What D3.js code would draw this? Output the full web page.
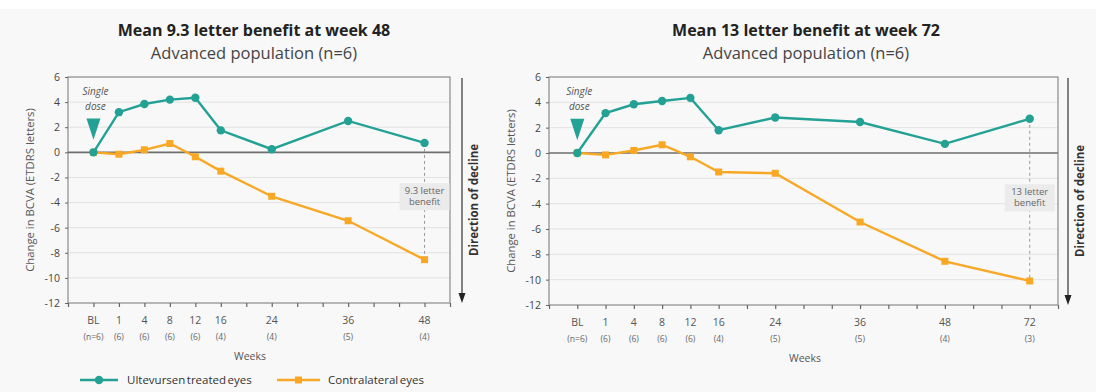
<!DOCTYPE html>
<html><head><meta charset="utf-8">
<script src="https://cdn.jsdelivr.net/npm/d3@7"></script>
<style>body{margin:0;background:#fff;font-family:"Open Sans",sans-serif}</style>
</head><body>
<svg id="c" width="1096" height="392"></svg>
<script>
// ---- data ----
const titles = ["Mean 9.3 letter benefit at week 48", "Mean 13 letter benefit at week 72"];
const subtitle = "Advanced population (n=6)";
// axis slots (blank slots are unlabeled ticks)
const slotsA = ["_0","BL","1","4","8","12","16","_7","24","_9","_10","36","_12","_13","48","_15"];
const slotsB = ["_0","BL","1","4","8","12","16","_7","24","_9","_10","36","_12","_13","48","_15","_16","72","_18"];
const weeksA = ["BL","1","4","8","12","16","24","36","48"];
const weeksB = ["BL","1","4","8","12","16","24","36","48","72"];
const nA = ["(n=6)","(6)","(6)","(6)","(6)","(4)","(4)","(5)","(4)"];
const nB = ["(n=6)","(6)","(6)","(6)","(6)","(4)","(5)","(5)","(4)","(3)"];
const treatedA = [0, 3.2, 3.85, 4.2, 4.35, 1.75, 0.25, 2.5, 0.75];
const contraA  = [0, -0.15, 0.2, 0.7, -0.35, -1.5, -3.5, -5.45, -8.55];
const treatedB = [0, 3.15, 3.85, 4.1, 4.35, 1.8, 2.8, 2.45, 0.72, 2.7];
const contraB  = [0, -0.15, 0.2, 0.65, -0.3, -1.5, -1.6, -5.45, -8.55, -10.1];
const benefitLabels = [["9.3 letter","benefit"],["13 letter","benefit"]];
const yTicks = [6,4,2,0,-2,-4,-6,-8,-10,-12];
const seriesNames = ["Ultevursen treated eyes", "Contralateral eyes"];

const TEAL = "#22a194", ORANGE = "#f8a824";
const svg = d3.select("#c");
svg.append("rect").attr("x",0).attr("y",9).attr("width",1096).attr("height",383).attr("fill","#f8f8f8");

const panels = [
  {slots:slotsA, weeks:weeksA, n:nA, t:treatedA, c:contraA, x0:68, x1:450, y0:303, y1:77, title:titles[0], ben:benefitLabels[0], arrowX:462, cx:254, wx:250},
  {slots:slotsB, weeks:weeksB, n:nB, t:treatedB, c:contraB, x0:549, x1:1058, y0:305, y1:77, title:titles[1], ben:benefitLabels[1], arrowX:1068, cx:806, wx:805}
];

panels.forEach(p => {
  const g = svg.append("g");
  const x = d3.scalePoint().domain(p.slots).range([p.x0, p.x1]).padding(0);
  const y = d3.scaleLinear().domain([-12, 6]).range([p.y0, p.y1]);

  // titles
  g.append("text").attr("x",p.cx).attr("y",36).attr("text-anchor","middle")
    .attr("font-size",16).attr("font-weight","bold").attr("fill","#222").text(p.title);
  g.append("text").attr("x",p.cx).attr("y",59).attr("text-anchor","middle")
    .attr("font-size",16.5).attr("fill","#444").text(subtitle);

  // gridlines
  g.selectAll(".grid").data(yTicks.filter(v=>v!==0 && v!==-12 && v!==6)).join("line")
    .attr("x1",p.x0).attr("x2",p.x1).attr("y1",d=>y(d)).attr("y2",d=>y(d))
    .attr("stroke","#e2e2e2").attr("stroke-width",1);
  // frame
  g.append("rect").attr("x",p.x0).attr("y",y(6)).attr("width",p.x1-p.x0).attr("height",y(-12)-y(6))
    .attr("fill","none").attr("stroke","#8a8a8a").attr("stroke-width",1.2);
  // zero line
  g.append("line").attr("x1",p.x0).attr("x2",p.x1).attr("y1",y(0)).attr("y2",y(0))
    .attr("stroke","#6e6e6e").attr("stroke-width",1.6);

  // y axis
  const ya = g.append("g").attr("transform",`translate(${p.x0},0)`)
    .call(d3.axisLeft(y).tickValues(yTicks).tickSize(3).tickFormat(d=>d));
  ya.select(".domain").remove();
  ya.selectAll("line").attr("stroke","#666");
  ya.selectAll("text").attr("font-family","Open Sans").attr("font-size",10.5).attr("fill","#444").attr("dx",-2);

  // x axis
  const xa = g.append("g").attr("transform",`translate(0,${p.y0})`)
    .call(d3.axisBottom(x).tickSize(4).tickFormat(""));
  xa.select(".domain").remove();
  xa.selectAll("line").attr("stroke","#666").attr("stroke-width",1.2);
  g.selectAll(".wk").data(p.weeks).join("text")
    .attr("x",d=>x(d)).attr("y",p.y0+21).attr("text-anchor","middle")
    .attr("font-size",10.5).attr("fill","#555").text(d=>d);
  g.selectAll(".nn").data(p.n).join("text")
    .attr("x",(d,i)=>x(p.weeks[i])).attr("y",p.y0+37).attr("text-anchor","middle")
    .attr("font-size",8.5).attr("fill","#666").text(d=>d);
  g.append("text").attr("x",p.wx).attr("y",p.y0+57).attr("text-anchor","middle")
    .attr("font-size",10.5).attr("fill","#555").text("Weeks");

  // y title
  g.append("text").attr("transform",`translate(${p.x0-34},${(p.y0+p.y1)/2}) rotate(-90)`)
    .attr("text-anchor","middle").attr("font-size",11.3).attr("fill","#555").text("Change in BCVA (ETDRS letters)");

  // direction of decline
  g.append("line").attr("x1",p.arrowX).attr("x2",p.arrowX).attr("y1",y(6)+1).attr("y2",y(-12)-8)
    .attr("stroke","#333").attr("stroke-width",1.2);
  g.append("path").attr("d",`M${p.arrowX-3.5},${y(-12)-10} L${p.arrowX+3.5},${y(-12)-10} L${p.arrowX},${y(-12)} Z`).attr("fill","#222");
  g.append("text").attr("transform",`translate(${p.arrowX+16},${(p.y0+p.y1)/2+10}) rotate(-90)`)
    .attr("text-anchor","middle").attr("font-size",11.5).attr("font-weight","bold").attr("fill","#333").text("Direction of decline");

  // benefit annotation
  const last = p.weeks[p.weeks.length-1];
  const lx = x(last);
  g.append("line").attr("x1",lx).attr("x2",lx).attr("y1",y(p.t[p.t.length-1])).attr("y2",y(p.c[p.c.length-1]))
    .attr("stroke","#999").attr("stroke-width",1).attr("stroke-dasharray","3,3");
  const by = (y(-2.5)+y(-4.5))/2;
  g.append("rect").attr("x",lx-25).attr("y",by-13).attr("width",50).attr("height",27).attr("fill","#ebebeb");
  g.selectAll(".bl").data(p.ben).join("text")
    .attr("x",lx).attr("y",(d,i)=>by-2+i*11).attr("text-anchor","middle")
    .attr("font-size",9.5).attr("fill","#666").text(d=>d);

  // single dose
  const bx = x("BL");
  g.append("text").attr("x",bx+2).attr("y",y(5)+5).attr("text-anchor","middle")
    .attr("font-size",10).attr("font-style","italic").attr("fill","#555").text("Single");
  g.append("text").attr("x",bx+2).attr("y",y(3.8)+5).attr("text-anchor","middle")
    .attr("font-size",10).attr("font-style","italic").attr("fill","#555").text("dose");
  g.append("path").attr("d",`M${bx-7},${y(2.7)} L${bx+7},${y(2.7)} L${bx},${y(1)} Z`).attr("fill",TEAL);

  // lines
  const line = d3.line().x((d,i)=>x(p.weeks[i])).y(d=>y(d));
  g.append("path").datum(p.c).attr("d",line).attr("fill","none").attr("stroke",ORANGE).attr("stroke-width",2.4);
  g.selectAll(".sq").data(p.c).join("rect")
    .attr("x",(d,i)=>x(p.weeks[i])-3.5).attr("y",d=>y(d)-3.5).attr("width",7).attr("height",7).attr("fill",ORANGE);
  g.append("path").datum(p.t).attr("d",line).attr("fill","none").attr("stroke",TEAL).attr("stroke-width",2.4);
  g.selectAll(".ci").data(p.t).join("circle")
    .attr("cx",(d,i)=>x(p.weeks[i])).attr("cy",d=>y(d)).attr("r",4.2).attr("fill",TEAL);
});

// legend
const lg = svg.append("g").attr("transform","translate(0,380)");
lg.append("line").attr("x1",80).attr("x2",118).attr("y1",0).attr("y2",0).attr("stroke",TEAL).attr("stroke-width",2.4);
lg.append("circle").attr("cx",99).attr("cy",0).attr("r",4.2).attr("fill",TEAL);
lg.append("text").attr("x",127).attr("y",4).attr("font-size",11.5).attr("fill","#333").attr("word-spacing",-1.5).text(seriesNames[0]);
lg.append("line").attr("x1",277).attr("x2",320).attr("y1",0).attr("y2",0).attr("stroke",ORANGE).attr("stroke-width",2.4);
lg.append("rect").attr("x",295).attr("y",-3.5).attr("width",7).attr("height",7).attr("fill",ORANGE);
lg.append("text").attr("x",328).attr("y",4).attr("font-size",11.5).attr("fill","#333").attr("word-spacing",-1.5).text(seriesNames[1]);
</script>
</body></html>
